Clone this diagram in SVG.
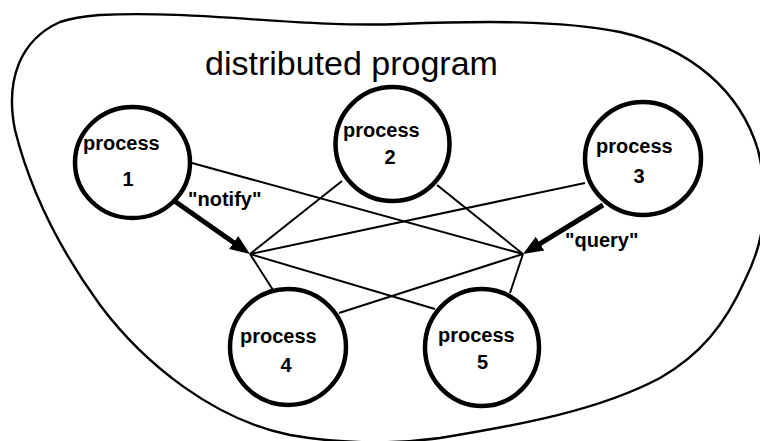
<svg xmlns="http://www.w3.org/2000/svg" width="760" height="441" viewBox="0 0 760 441">
  <style>
    .boundary { fill: none; stroke: #000; stroke-width: 2.4; }
    .proc { fill: #fff; stroke: #000; stroke-width: 4.5; }
    .link { stroke: #000; stroke-width: 2; fill: none; }
    .msg { stroke: #000; stroke-width: 5; fill: none; }
    .title { font-family: "Liberation Sans", Arial, sans-serif; font-size: 34px; fill: #000; }
    .lbl { font-family: "Liberation Sans", Arial, sans-serif; font-size: 20px; font-weight: bold; fill: #000; }
    .num { font-family: "Liberation Sans", Arial, sans-serif; font-size: 20px; font-weight: bold; fill: #000; text-anchor: middle; }
  </style>
  <defs>
    <marker id="head" viewBox="0 0 20 16" refX="10" refY="8" markerWidth="20" markerHeight="16" markerUnits="userSpaceOnUse" orient="auto">
      <path d="M0,0 L20,8 L0,16 Z" fill="#000"/>
    </marker>
  </defs>

  <rect width="760" height="441" fill="#fff"/>

  <!-- outer boundary of the distributed program -->
  <path class="boundary" d="M 100,15 C 200,10 300,28 400,24 C 480,21 560,20 620,32 C 690,48 740,90 758,150 C 770,200 765,240 745,280 C 725,325 700,355 660,378 C 600,410 520,425 440,438 C 380,446 330,442 290,435 C 215,420 145,365 100,305 C 60,250 30,190 15,130 C 5,80 20,40 60,22 C 75,17 88,16 100,15 Z"/>
  <text class="title" x="205" y="75">distributed program</text>

  <!-- connectors -->
  <g id="connectors">
    <line class="link" x1="192" y1="163" x2="523" y2="254"/>
    <line class="link" x1="342" y1="181" x2="250" y2="254"/>
    <line class="link" x1="437" y1="185" x2="523" y2="254"/>
    <line class="link" x1="585" y1="183" x2="250" y2="254"/>
    <line class="link" x1="250" y1="254" x2="273" y2="290"/>
    <line class="link" x1="250" y1="254" x2="435" y2="309"/>
    <line class="link" x1="339" y1="313" x2="523" y2="254"/>
    <line class="link" x1="510" y1="293" x2="523" y2="254"/>
    <line class="msg" x1="173" y1="200" x2="241.8" y2="248.3" marker-end="url(#head)"/>
    <line class="msg" x1="603" y1="205" x2="531.5" y2="248.8" marker-end="url(#head)"/>
    <text class="lbl" x="188" y="206">"notify"</text>
    <text class="lbl" x="565" y="247">"query"</text>
  </g>

  <g id="process1">
    <ellipse class="proc" cx="132.5" cy="162.5" rx="57.5" ry="55.5"/>
    <text class="lbl" x="83" y="150">process</text>
    <text class="num" x="128" y="186">1</text>
  </g>
  <g id="process2">
    <ellipse class="proc" cx="392.5" cy="144" rx="57" ry="57"/>
    <text class="lbl" x="343" y="137">process</text>
    <text class="num" x="390" y="164">2</text>
  </g>
  <g id="process3">
    <ellipse class="proc" cx="643" cy="158.5" rx="58" ry="56.5"/>
    <text class="lbl" x="596" y="153">process</text>
    <text class="num" x="639" y="183">3</text>
  </g>
  <g id="process4">
    <ellipse class="proc" cx="288" cy="347" rx="58" ry="58"/>
    <text class="lbl" x="240" y="343">process</text>
    <text class="num" x="286" y="372">4</text>
  </g>
  <g id="process5">
    <ellipse class="proc" cx="482" cy="347.5" rx="57" ry="58.5"/>
    <text class="lbl" x="438" y="342">process</text>
    <text class="num" x="482.5" y="369">5</text>
  </g>
</svg>
